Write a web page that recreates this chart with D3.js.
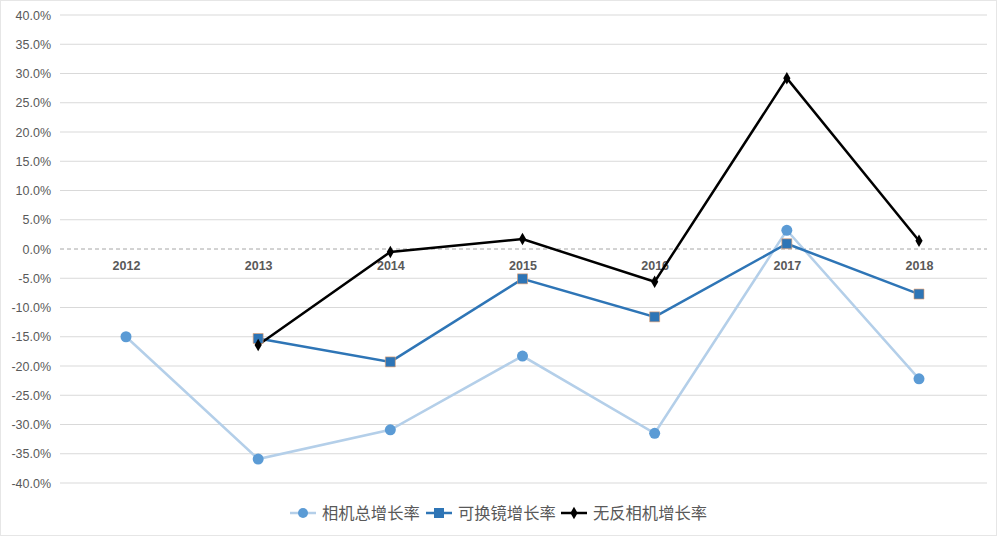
<!DOCTYPE html>
<html><head><meta charset="utf-8">
<script src="https://cdn.jsdelivr.net/npm/d3@7"></script>
<style>body{margin:0;background:#fff;}svg{display:block;font-family:"Noto Sans CJK SC","Open Sans",sans-serif;}</style>
</head><body><svg id="c" width="1000" height="538"></svg>
<script>
const years = ["2012","2013","2014","2015","2016","2017","2018"];
const totalGrowth = [-15.0,-35.9,-30.9,-18.3,-31.5,3.2,-22.2];
const lensGrowth = [null,-15.3,-19.3,-5.1,-11.6,0.9,-7.7];
const mirrorlessGrowth = [null,-16.4,-0.5,1.7,-5.6,29.2,1.4];
const seriesNames = ["相机总增长率","可换镜增长率","无反相机增长率"];
const yTicks = [40,35,30,25,20,15,10,5,0,-5,-10,-15,-20,-25,-30,-35,-40];

const svg = d3.select("#c");
svg.append("rect").attr("x",0.5).attr("y",0.5).attr("width",996).attr("height",535)
  .attr("fill","none").attr("stroke","#e6e6e6");

const x = d3.scalePoint().domain(years).range([126,919]);
const y = d3.scaleLinear().domain([-40,40]).range([483,15]);

const yAxis = d3.axisLeft(y).tickValues(yTicks).tickFormat(d=>d.toFixed(1)+"%").tickSize(0).tickPadding(0);
const gy = svg.append("g").attr("transform","translate(51,0)").call(yAxis);
gy.select(".domain").remove();
gy.selectAll("text").attr("fill","#595959").attr("font-size",12.5).attr("font-family","Liberation Sans, Arial, sans-serif");
svg.append("g").selectAll("line").data(yTicks.filter(d=>d!==0)).join("line")
  .attr("x1",60).attr("x2",987).attr("y1",d=>y(d)).attr("y2",d=>y(d))
  .attr("stroke","#d9d9d9").attr("stroke-width",1);
svg.append("line").attr("x1",60).attr("x2",987).attr("y1",y(0)).attr("y2",y(0))
  .attr("stroke","#a6a6a6").attr("stroke-dasharray","4,3").attr("stroke-width",1);

const xAxis = d3.axisBottom(x).tickSize(0).tickPadding(0);
const gx = svg.append("g").attr("transform",`translate(0,${y(0)+12})`).call(xAxis);
gx.select(".domain").remove();
gx.selectAll("text").attr("fill","#595959").attr("font-size",12.5).attr("font-weight","bold")
  .attr("font-family","Liberation Sans, Arial, sans-serif");

const line = d3.line().defined(d=>d.v!==null).x(d=>x(d.k)).y(d=>y(d.v));
function pts(arr){return years.map((k,i)=>({k,v:arr[i]}));}

svg.append("path").datum(pts(totalGrowth)).attr("d",line).attr("fill","none")
  .attr("stroke","#b4cfe9").attr("stroke-width",2.5);
svg.append("path").datum(pts(lensGrowth)).attr("d",line).attr("fill","none")
  .attr("stroke","#2e75b6").attr("stroke-width",2.5);
svg.append("path").datum(pts(mirrorlessGrowth)).attr("d",line).attr("fill","none")
  .attr("stroke","#000").attr("stroke-width",2.5);

const sq = d3.symbol().type(d3.symbolSquare).size(100);
const dia = d3.symbol().type(d3.symbolDiamond).size(45);
svg.append("g").selectAll("circle").data(pts(totalGrowth)).join("circle")
  .attr("cx",d=>x(d.k)).attr("cy",d=>y(d.v)).attr("r",5.5).attr("fill","#5b9bd5");
svg.append("g").selectAll("path").data(pts(lensGrowth).filter(d=>d.v!==null)).join("path")
  .attr("d",sq).attr("transform",d=>`translate(${x(d.k)},${y(d.v)})`)
  .attr("fill","#2e75b6").attr("stroke","#ed9f6a").attr("stroke-width",0.6);
svg.append("g").selectAll("path").data(pts(mirrorlessGrowth).filter(d=>d.v!==null)).join("path")
  .attr("d",dia).attr("transform",d=>`translate(${x(d.k)},${y(d.v)})`).attr("fill","#000");

const leg = svg.append("g").attr("transform","translate(0,513)");
const lx = [290,426,561];
const lc = ["#b4cfe9","#2e75b6","#000"];
seriesNames.forEach((n,i)=>{
  const g = leg.append("g").attr("transform",`translate(${lx[i]},0)`);
  g.append("line").attr("x1",0).attr("x2",26).attr("stroke",lc[i]).attr("stroke-width",2.5);
  if(i===0) g.append("circle").attr("cx",13).attr("r",5).attr("fill","#5b9bd5");
  if(i===1) g.append("path").attr("d",sq).attr("transform","translate(13,0)").attr("fill","#2e75b6");
  if(i===2) g.append("path").attr("d",dia).attr("transform","translate(13,0)").attr("fill","#000");
  g.append("text").attr("x",32).attr("y",6).attr("font-size",16.3).attr("fill","#595959").text(n);
});
</script></body></html>
